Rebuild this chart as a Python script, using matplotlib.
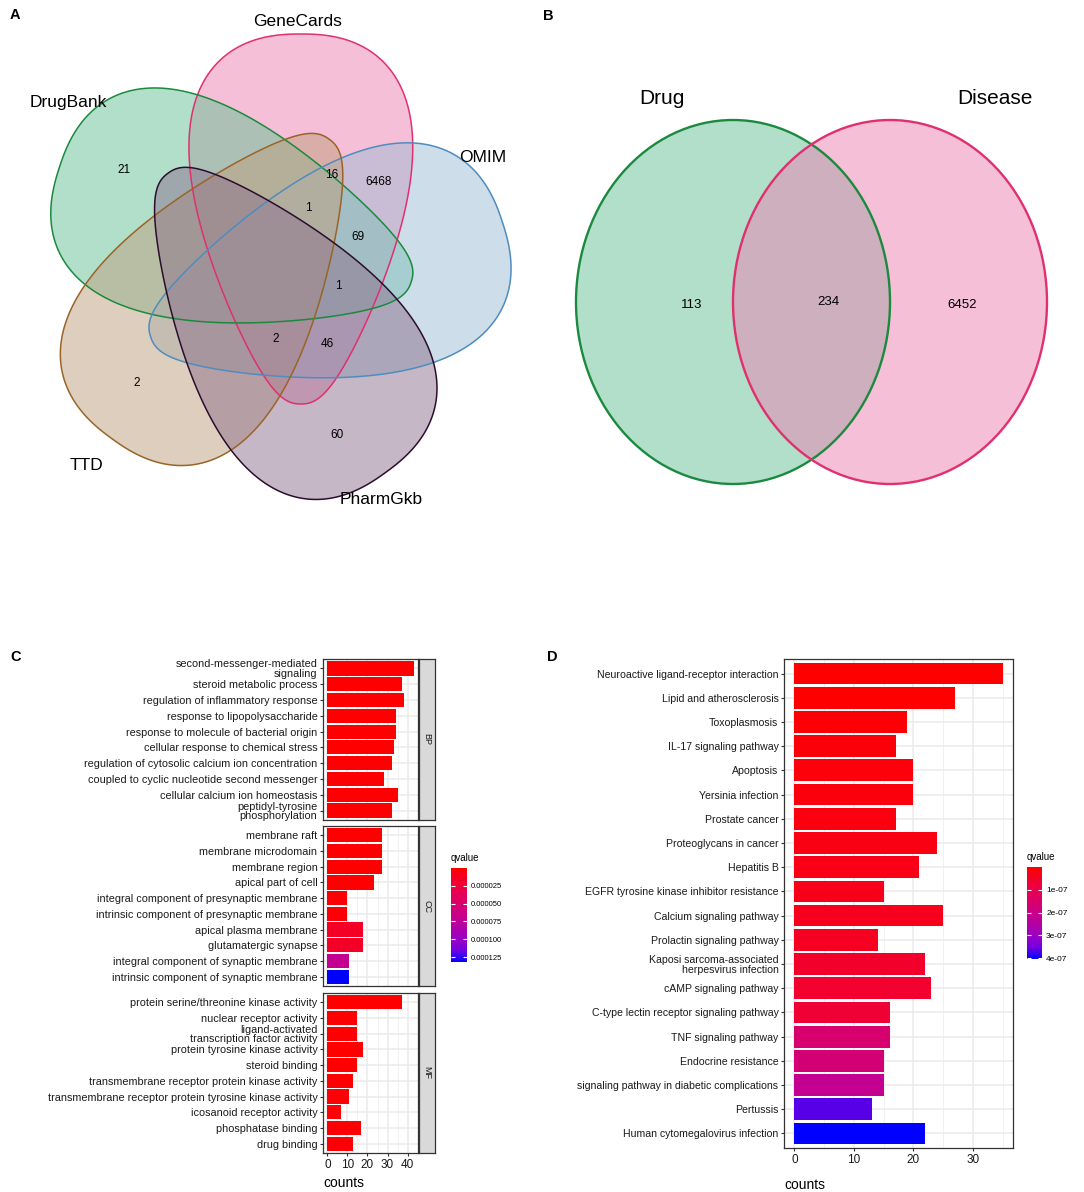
import numpy as np
import matplotlib
matplotlib.use('Agg')
import matplotlib.pyplot as plt
from matplotlib.patches import Ellipse, Polygon
from matplotlib.colors import LinearSegmentedColormap, Normalize
from matplotlib.cm import ScalarMappable

plt.rcParams['font.family'] = 'Liberation Sans'

W, H = 1084, 1192

# ---------------- data ----------------
# A: five-set venn
venn5_sets = ['GeneCards', 'DrugBank', 'OMIM', 'TTD', 'PharmGkb']
venn5_counts = [21, 16, 6468, 1, 69, 1, 2, 46, 2, 60]

# B: two-set venn
venn2_sets = ['Drug', 'Disease']
venn2_counts = [113, 234, 6452]

# C: GO enrichment
bp_terms = ['second-messenger-mediated\nsignaling', 'steroid metabolic process',
            'regulation of inflammatory response', 'response to lipopolysaccharide',
            'response to molecule of bacterial origin', 'cellular response to chemical stress',
            'regulation of cytosolic calcium ion concentration',
            'coupled to cyclic nucleotide second messenger',
            'cellular calcium ion homeostasis', 'peptidyl-tyrosine\nphosphorylation']
bp_counts = [43, 37, 38, 34, 34, 33, 32, 28, 35, 32]
bp_q = [1.5e-10, 2.0e-9, 4.1e-9, 6.3e-9, 8.0e-9, 1.1e-8, 1.4e-8, 2.2e-8, 3.0e-8, 4.5e-8]

cc_terms = ['membrane raft', 'membrane microdomain', 'membrane region', 'apical part of cell',
            'integral component of presynaptic membrane',
            'intrinsic component of presynaptic membrane', 'apical plasma membrane',
            'glutamatergic synapse', 'integral component of synaptic membrane',
            'intrinsic component of synaptic membrane']
cc_counts = [27, 27, 27, 23, 10, 10, 18, 18, 11, 11]
cc_q = [3.1e-7, 3.1e-7, 3.4e-7, 1.2e-6, 2.6e-6, 2.6e-6, 1.6e-5, 1.7e-5, 7.0e-5, 1.32e-4]

mf_terms = ['protein serine/threonine kinase activity', 'nuclear receptor activity',
            'ligand-activated\ntranscription factor activity', 'protein tyrosine kinase activity',
            'steroid binding', 'transmembrane receptor protein kinase activity',
            'transmembrane receptor protein tyrosine kinase activity',
            'icosanoid receptor activity', 'phosphatase binding', 'drug binding']
mf_counts = [37, 15, 15, 18, 15, 13, 11, 7, 17, 13]
mf_q = [2.0e-7, 5.5e-7, 5.5e-7, 9.0e-7, 1.1e-6, 1.5e-6, 2.1e-6, 2.4e-6, 2.9e-6, 3.3e-6]

# D: KEGG enrichment
kegg_terms = ['Neuroactive ligand-receptor interaction', 'Lipid and atherosclerosis',
              'Toxoplasmosis', 'IL-17 signaling pathway', 'Apoptosis', 'Yersinia infection',
              'Prostate cancer', 'Proteoglycans in cancer', 'Hepatitis B',
              'EGFR tyrosine kinase inhibitor resistance', 'Calcium signaling pathway',
              'Prolactin signaling pathway', 'Kaposi sarcoma-associated\nherpesvirus infection',
              'cAMP signaling pathway', 'C-type lectin receptor signaling pathway',
              'TNF signaling pathway', 'Endocrine resistance',
              'signaling pathway in diabetic complications', 'Pertussis',
              'Human cytomegalovirus infection']
kegg_counts = [35, 27, 19, 17, 20, 20, 17, 24, 21, 15, 25, 14, 22, 23, 16, 16, 15, 15, 13, 22]
kegg_q = [1.0e-9, 4.0e-9, 1.0e-8, 1.3e-8, 1.6e-8, 1.8e-8, 2.1e-8, 2.5e-8, 3.0e-8, 3.3e-8,
          3.8e-8, 4.4e-8, 5.6e-8, 6.0e-8, 7.0e-8, 1.55e-7, 1.68e-7, 2.15e-7, 3.65e-7, 4.03e-7]

# ---------------- layout ----------------
fig = plt.figure(figsize=(W / 100, H / 100), dpi=100)


def px_axes(x0, y0, x1, y1):
    return fig.add_axes([x0 / W, 1 - y1 / H, (x1 - x0) / W, (y1 - y0) / H])


bg = fig.add_axes([0, 0, 1, 1])
bg.set_xlim(0, W)
bg.set_ylim(H, 0)
bg.axis('off')

for letter, (lx, ly) in zip('ABCD', [(10, 15), (543, 16), (10, 657), (547, 657)]):
    bg.text(lx, ly, letter, fontsize=10.5, fontweight='bold', va='center', ha='left')


def egg(cx, cy, phi, a=185, b0=102, b1=46, n=300):
    # egg shaped set outline: round bulb towards phi, narrow tail opposite
    th = np.linspace(0, 2 * np.pi, n)
    u = np.cos(th)
    s = np.sin(th)
    v = (b0 + b1 * u) * np.abs(s) ** 0.84 * np.sign(s)
    p = np.deg2rad(phi)
    x = cx + a * u * np.cos(p) - v * np.sin(p)
    y = cy - a * u * np.sin(p) - v * np.cos(p)
    return np.column_stack([x, y])


# panel A: five rotated copies around a common centre
ox, oy, rr = 272, 267, 56
bulb_dir = [90, 162, 18, 234, 306]
fills5 = [(235, 129, 177), (101, 193, 151), (157, 189, 213), (191, 159, 125), (141, 113, 141)]
edges5 = ['#e0306e', '#1b8a3e', '#4f8cc0', '#9a6428', '#2c0d2e']
shapes = []
for phi in bulb_dir:
    off = np.deg2rad(phi - 31)
    shapes.append(egg(ox + rr * np.cos(off), oy - rr * np.sin(off), phi))
for pts, fc in zip(shapes, fills5):
    bg.add_patch(Polygon(pts, closed=True, facecolor=tuple(v / 255 for v in fc),
                         alpha=0.5, lw=0))
for pts, ec in zip(shapes, edges5):
    bg.add_patch(Polygon(pts, closed=True, fill=False, edgecolor=ec, lw=1.1))

set5_pos = [(298, 21), (68, 103), (483, 158), (87, 466), (381, 500)]
for name, (x, y) in zip(venn5_sets, set5_pos):
    bg.text(x, y, name, fontsize=12.5, ha='center', va='center')
cnt5_pos = [(124, 170), (332, 175), (379, 182), (308, 208), (358, 237),
            (338, 286), (276, 339), (327, 344), (137, 383), (337, 435)]
for n, (x, y) in zip(venn5_counts, cnt5_pos):
    bg.text(x, y, str(n), fontsize=8.5, ha='center', va='center')

# panel B
ell2 = [((733, 302), (101, 193, 151), '#1b8a3e'),
        ((890, 302), (235, 129, 177), '#e0306e')]
for (c, fc, ec) in ell2:
    bg.add_patch(Ellipse(c, 314, 364, facecolor=tuple(v / 255 for v in fc), alpha=0.5, lw=0))
for (c, fc, ec) in ell2:
    bg.add_patch(Ellipse(c, 314, 364, fill=False, edgecolor=ec, lw=1.7))
for name, (x, y) in zip(venn2_sets, [(662, 98), (995, 99)]):
    bg.text(x, y, name, fontsize=15, ha='center', va='center')
for n, (x, y) in zip(venn2_counts, [(692, 305), (828, 302), (962, 305)]):
    bg.text(x, y, str(n), fontsize=9.5, ha='center', va='center')

# red -> blue gradient (Lab interpolated like ggplot)
cmap = LinearSegmentedColormap.from_list(
    'rb', [(0, '#ff0000'), (0.25, '#e8004f'), (0.5, '#c90088'),
           (0.75, '#9a00c3'), (0.875, '#7300e0'), (1, '#0000ff')])

edge_col = '#333333'
grid_col = '#ebebeb'


def style_panel(ax):
    for s in ax.spines.values():
        s.set_color(edge_col)
        s.set_linewidth(0.9)
    ax.set_axisbelow(True)
    ax.grid(which='major', color=grid_col, lw=1.1)
    ax.grid(which='minor', axis='x', color=grid_col, lw=0.5)
    ax.tick_params(which='major', length=2.5, width=0.8, color=edge_col, pad=1.5,
                   labelcolor='#1a1a1a')
    ax.tick_params(which='minor', length=0)


# panel C
all_q = bp_q + cc_q + mf_q
cmax = max(bp_counts + cc_counts + mf_counts)
norm_c = Normalize(min(all_q), max(all_q))
facets = [('BP', bp_terms, bp_counts, bp_q, 659, 820),
          ('CC', cc_terms, cc_counts, cc_q, 826, 986),
          ('MF', mf_terms, mf_counts, mf_q, 993, 1153)]
for i, (name, terms, counts, q, top, bot) in enumerate(facets):
    ax = px_axes(323, top, 418, bot)
    y = np.arange(1, len(terms) + 1)
    ax.barh(y, counts, height=0.9, color=cmap(norm_c(np.array(q))), zorder=3)
    ax.set_ylim(len(terms) + 0.6, 0.4)
    ax.set_xlim(-0.05 * cmax, 1.05 * cmax)
    ax.set_xticks([0, 10, 20, 30, 40])
    ax.set_xticks([5, 15, 25, 35, 45], minor=True)
    ax.set_yticks(y)
    ax.set_yticklabels(terms, fontsize=7.8, linespacing=0.95)
    style_panel(ax)
    if i < 2:
        ax.tick_params(axis='x', length=0, labelbottom=False)
    else:
        ax.tick_params(axis='x', labelsize=8.5)
        ax.set_xlabel('counts', fontsize=10, loc='left', labelpad=4)
    st = px_axes(419, top, 435, bot)
    st.set_facecolor('#d9d9d9')
    st.set_xticks([])
    st.set_yticks([])
    for s in st.spines.values():
        s.set_color(edge_col)
        s.set_linewidth(0.9)
    st.text(0.5, 0.5, name, rotation=-90, fontsize=6.5, ha='center', va='center',
            transform=st.transAxes, color='#1a1a1a')

cax = px_axes(451, 868, 467, 962)
cb = fig.colorbar(ScalarMappable(norm=norm_c, cmap=cmap), cax=cax)
cb.outline.set_visible(False)
cb.set_ticks([0.000025, 0.00005, 0.000075, 0.0001, 0.000125])
cb.set_ticklabels([f'{v:.6f}' for v in [0.000025, 0.00005, 0.000075, 0.0001, 0.000125]])
cax.invert_yaxis()
cax.yaxis.set_ticks_position('both')
cax.tick_params(direction='in', color='white', length=3, width=0.8, labelsize=5.5, pad=3)
cax.set_title('qvalue', fontsize=7, loc='left', pad=5)

# panel D
ax = px_axes(784, 659, 1013, 1148)
y = np.arange(1, len(kegg_terms) + 1)
norm_d = Normalize(min(kegg_q), max(kegg_q))
ax.barh(y, kegg_counts, height=0.9, color=cmap(norm_d(np.array(kegg_q))), zorder=3)
dmax = max(kegg_counts)
ax.set_ylim(len(kegg_terms) + 0.6, 0.4)
ax.set_xlim(-0.05 * dmax, 1.05 * dmax)
ax.set_xticks([0, 10, 20, 30])
ax.set_xticks([5, 15, 25, 35], minor=True)
ax.set_yticks(y)
ax.set_yticklabels(kegg_terms, fontsize=7.6, linespacing=0.95)
style_panel(ax)
ax.tick_params(axis='x', labelsize=8.5)
ax.set_xlabel('counts', fontsize=10, loc='left', labelpad=9)

cax2 = px_axes(1027, 867, 1042, 959)
cb2 = fig.colorbar(ScalarMappable(norm=norm_d, cmap=cmap), cax=cax2)
cb2.outline.set_visible(False)
cb2.set_ticks([1e-7, 2e-7, 3e-7, 4e-7])
cb2.set_ticklabels([f'{v:.0e}' for v in [1e-7, 2e-7, 3e-7, 4e-7]])
cax2.invert_yaxis()
cax2.yaxis.set_ticks_position('both')
cax2.tick_params(direction='in', color='white', length=3, width=0.8, labelsize=6, pad=3)
cax2.set_title('qvalue', fontsize=7, loc='left', pad=5)

fig.savefig('out.png', dpi=100)
